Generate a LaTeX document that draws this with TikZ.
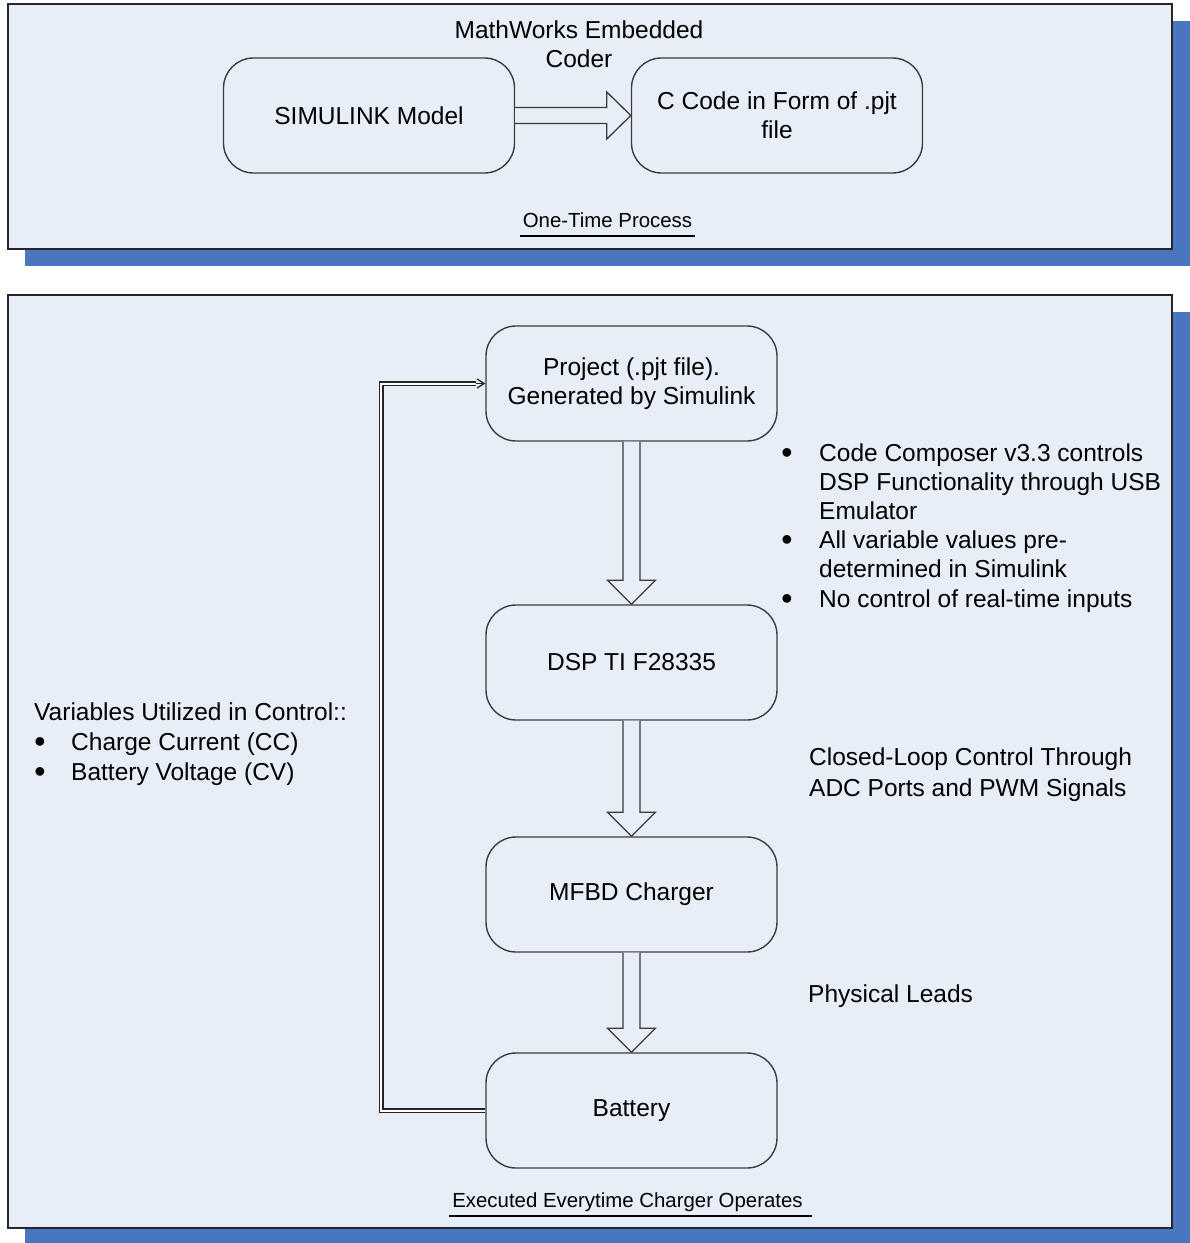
\documentclass[tikz,border=0pt]{standalone}
\usepackage{fontspec}
\setmainfont{Liberation Sans}
\usetikzlibrary{calc,arrows.meta}
\definecolor{panelbg}{HTML}{E8EEF8}
\definecolor{shadowblue}{HTML}{4A76C0}
\definecolor{edgegray}{HTML}{3C3C3C}
\tikzset{
  panel/.style={draw=black!85, line width=1.8pt, fill=panelbg},
  shadowbox/.style={fill=shadowblue, draw=none},
  procbox/.style={draw=edgegray, line width=1.4pt, rounded corners=30pt, minimum width=291pt, minimum height=115pt, align=center, font=\fontsize{24.5}{29}\selectfont, inner sep=0pt},
  txt/.style={font=\fontsize{24.5}{29.5}\selectfont, inner sep=0pt, anchor=base west},
  ctxt/.style={font=\fontsize{24.5}{29.5}\selectfont, inner sep=0pt, anchor=base},
  small/.style={font=\fontsize{20.4}{24}\selectfont, inner sep=0pt, anchor=base},
  bul/.style={font=\fontsize{32}{32}\selectfont, inner sep=0pt, anchor=base},
  blockarrow/.style={draw=edgegray, line width=1.3pt, fill=panelbg, line join=miter},
  loopline/.style={draw=black!85, line width=1.3pt, double=white, double distance=2pt},
  uline/.style={draw=black, line width=1.5pt},
}
\newcommand{\myharrow}[2]{\draw[blockarrow] ($(#1.east)+(0,-8)$) -- ($(#2.west)+(-24,-8)$) -- ($(#2.west)+(-24,-23.5)$) -- (#2.west) -- ($(#2.west)+(-24,23.5)$) -- ($(#2.west)+(-24,8)$) -- ($(#1.east)+(0,8)$);}
\newcommand{\myvarrow}[2]{\draw[blockarrow] ($(#1.south)+(-8.5,0)$) -- ($(#2.north)+(-8.5,-24)$) -- ($(#2.north)+(-24,-24)$) -- (#2.north) -- ($(#2.north)+(24,-24)$) -- ($(#2.north)+(8.5,-24)$) -- ($(#1.south)+(8.5,0)$);}
\begin{document}
\begin{tikzpicture}[x=1pt,y=-1pt]
\useasboundingbox (0,0) rectangle (1190,1243);
\fill[white] (0,0) rectangle (1190,1243);
% panels with shadows
\fill[shadowbox] (25,21) rectangle (1190,266);
\draw[panel] (8,4) rectangle (1172,249);
\fill[shadowbox] (25,312) rectangle (1190,1245);
\draw[panel] (8,295) rectangle (1172,1228);

% top panel
\node[procbox] (sim) at (369,115.5) {SIMULINK Model};
\node[procbox] (ccode) at (777,115.5) {C Code in Form of .pjt\\file};
\myharrow{sim}{ccode}
\node[ctxt] (coder1) at (579,38.5) {MathWorks Embedded};
\node[ctxt] (coder2) at (579,67) {Coder};
\node[small] (onetime) at (607.5,227) {One-Time Process};
\draw[uline] (520,236) -- (695,236);

% bottom panel
\node[procbox] (proj) at (631.5,383.5) {Project (.pjt file).\\Generated by Simulink};
\node[procbox] (dsp) at (631.5,662.5) {DSP TI F28335};
\node[procbox] (mfbd) at (631.5,894.5) {MFBD Charger};
\node[procbox] (bat) at (631.5,1110.5) {Battery};
\myvarrow{proj}{dsp}
\myvarrow{dsp}{mfbd}
\myvarrow{mfbd}{bat}

% feedback loop
\coordinate (loopend) at ($(proj.west)+(-9,0)$);
\draw[loopline] (bat.west) -- ++(-104,0) |- (loopend);
\draw[draw=black!85, line width=1.3pt, -{Straight Barb[length=7pt,width=9pt]}] (loopend) -- (proj.west);

% right notes
\node[bul] (b1) at (787,463) {•};
\node[txt] (r1) at (819,461) {Code Composer v3.3 controls};
\node[txt] (r2) at (819,490.2) {DSP Functionality through USB};
\node[txt] (r3) at (819,519.4) {Emulator};
\node[bul] (b2) at (787,550.6) {•};
\node[txt] (r4) at (819,548.6) {All variable values pre-};
\node[txt] (r5) at (819,577.8) {determined in Simulink};
\node[bul] (b3) at (787,609) {•};
\node[txt] (r6) at (819,607) {No control of real-time inputs};

\node[txt] (cl1) at (809,765) {Closed-Loop Control Through};
\node[txt] (cl2) at (809,796) {ADC Ports and PWM Signals};
\node[txt] (phys) at (808,1002) {Physical Leads};

% left notes
\node[txt] (var) at (34,720) {Variables Utilized in Control::};
\node[bul] (lb1) at (40,752) {•};
\node[txt] (l1) at (71,750) {Charge Current (CC)};
\node[bul] (lb2) at (40,782) {•};
\node[txt] (l2) at (71,780) {Battery Voltage (CV)};

\node[small] (exec) at (627.5,1207) {Executed Everytime Charger Operates};
\draw[uline] (449,1216) -- (812,1216);
\end{tikzpicture}
\end{document}
